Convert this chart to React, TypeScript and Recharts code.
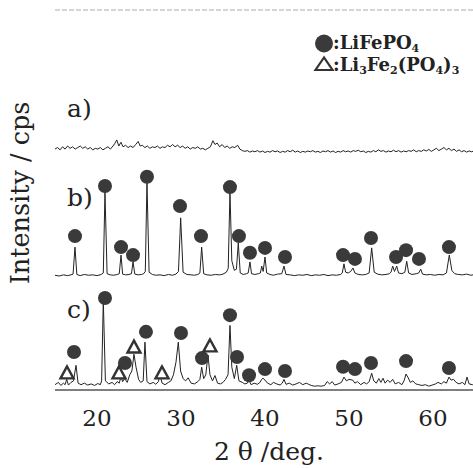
import { ComposedChart, Line, Scatter, XAxis, YAxis, ReferenceLine } from 'recharts';

// 2θ (deg) vs counts above each pattern's own baseline
const patternA: [number, number][] = [
  [15.0, 10], [15.3, 14], [15.6, 8], [15.9, 16], [16.2, 10], [16.5, 18], [16.8, 12], [17.1, 16], [17.4, 10], [17.7, 14],
  [18.0, 18], [18.3, 12], [18.6, 16], [18.9, 10], [19.2, 14], [19.5, 8], [19.8, 12], [20.1, 10], [20.4, 14], [20.7, 8],
  [21.0, 12], [21.3, 16], [21.6, 10], [21.9, 18], [22.1, 24], [22.35, 34], [22.6, 18], [22.85, 28], [23.1, 16], [23.4, 20],
  [23.7, 14], [24.0, 18], [24.3, 14], [24.6, 22], [24.9, 30], [25.15, 18], [25.4, 20], [25.7, 14], [26.0, 18], [26.3, 12],
  [26.6, 16], [26.9, 14], [27.2, 18], [27.5, 12], [27.8, 16], [28.1, 14], [28.4, 20], [28.7, 16], [29.0, 22], [29.3, 16],
  [29.6, 20], [29.9, 14], [30.2, 18], [30.5, 12], [30.8, 16], [31.1, 10], [31.4, 14], [31.7, 12], [32.0, 16], [32.3, 10],
  [32.6, 12], [32.9, 8], [33.2, 12], [33.5, 16], [33.8, 32], [34.05, 22], [34.3, 26], [34.6, 16], [34.9, 22], [35.2, 14],
  [35.5, 18], [35.8, 12], [36.1, 16], [36.4, 14], [36.75, 20], [37.0, 10], [37.3, 6], [37.6, 4], [37.9, 6], [38.2, 2],
  [38.5, 5], [38.8, 3], [39.1, 6], [39.4, 2], [39.7, 5], [40.0, 1], [40.3, 4], [40.6, 2], [40.9, 6], [41.2, 3],
  [41.5, 5], [41.8, 1], [42.1, 4], [42.4, 2], [42.7, 6], [43.0, 3], [43.3, 7], [43.6, 2], [43.9, 5], [44.2, 1],
  [44.5, 4], [44.8, 2], [45.1, 5], [45.4, 3], [45.7, 6], [46.0, 2], [46.3, 4], [46.6, 1], [46.9, 5], [47.2, 3],
  [47.5, 6], [47.8, 2], [48.1, 5], [48.4, 1], [48.7, 4], [49.0, 2], [49.3, 6], [49.6, 3], [49.9, 5], [50.2, 2],
  [50.5, 6], [50.8, 4], [51.1, 7], [51.4, 3], [51.7, 5], [52.0, 1], [52.3, 4], [52.6, 2], [52.9, 6], [53.2, 3],
  [53.5, 8], [53.8, 4], [54.1, 6], [54.4, 2], [54.7, 5], [55.0, 3], [55.3, 7], [55.6, 3], [55.9, 6], [56.2, 2],
  [56.5, 5], [56.8, 3], [57.1, 6], [57.4, 4], [57.7, 8], [58.0, 3], [58.3, 6], [58.6, 4], [58.9, 8], [59.2, 5],
  [59.5, 9], [59.8, 4], [60.1, 8], [60.4, 12], [60.7, 6], [61.0, 10], [61.3, 14], [61.6, 8], [61.9, 12], [62.2, 6],
  [62.5, 10], [62.8, 4], [63.1, 8], [63.4, 3], [63.7, 6], [64.0, 2], [64.3, 5], [64.6, 3], [65.0, 6],
];

const patternB: [number, number][] = [
  [15.0, 2], [15.5, 0], [16.0, 3], [16.5, 1], [16.9, 3], [17.15, 5], [17.38, 76], [17.6, 4], [18.0, 1], [18.5, 4],
  [19.0, 2], [19.5, 3], [20.0, 1], [20.5, 4], [20.75, 8], [20.95, 221], [21.2, 6], [21.6, 3], [22.0, 2], [22.4, 4],
  [22.65, 6], [22.86, 55], [23.05, 5], [23.4, 3], [23.8, 4], [24.1, 6], [24.29, 37], [24.5, 5], [24.9, 3], [25.3, 4],
  [25.55, 6], [25.75, 12], [25.95, 247], [26.2, 10], [26.6, 4], [27.0, 2], [27.5, 3], [28.0, 1], [28.5, 4], [29.0, 2],
  [29.4, 5], [29.7, 12], [29.96, 153], [30.25, 10], [30.7, 4], [31.2, 3], [31.6, 2], [32.0, 4], [32.25, 8], [32.46, 76],
  [32.7, 6], [33.1, 3], [33.6, 2], [34.1, 4], [34.6, 3], [35.0, 5], [35.4, 10], [35.62, 20], [35.83, 221], [36.05, 40],
  [36.35, 15], [36.6, 18], [36.82, 87], [37.05, 8], [37.4, 4], [37.8, 6], [38.0, 8], [38.21, 37], [38.4, 6], [38.8, 4],
  [39.2, 6], [39.45, 8], [39.61, 26], [39.78, 12], [40.0, 50], [40.2, 8], [40.6, 4], [41.0, 2], [41.5, 5], [42.0, 6],
  [42.26, 26], [42.5, 4], [43.0, 3], [43.5, 1], [44.0, 3], [44.5, 2], [45.0, 4], [45.5, 1], [46.0, 3], [46.5, 2],
  [47.0, 4], [47.5, 1], [48.0, 3], [48.5, 2], [49.0, 4], [49.2, 8], [49.4, 32], [49.6, 10], [49.9, 8], [50.2, 12],
  [50.48, 21], [50.7, 8], [51.1, 4], [51.6, 3], [52.0, 4], [52.4, 8], [52.7, 74], [53.0, 10], [53.4, 5], [53.9, 3],
  [54.4, 4], [54.8, 6], [55.0, 10], [55.2, 26], [55.42, 12], [55.68, 26], [55.9, 8], [56.3, 6], [56.65, 10], [56.87, 39],
  [57.1, 8], [57.5, 4], [58.0, 6], [58.3, 8], [58.54, 18], [58.75, 5], [59.2, 3], [59.7, 4], [60.2, 2], [60.7, 4],
  [61.2, 3], [61.6, 8], [61.94, 55], [62.25, 14], [62.6, 6], [63.0, 4], [63.5, 3], [64.0, 5], [64.5, 2], [65.0, 4],
];

const patternC: [number, number][] = [
  [15.0, 4], [15.4, 10], [15.7, 2], [16.0, 8], [16.2, 4], [16.39, 18], [16.6, 3], [16.9, 10], [17.2, 14], [17.5, 55],
  [17.75, 8], [18.1, 4], [18.5, 8], [18.9, 3], [19.3, 6], [19.7, 2], [20.1, 7], [20.4, 4], [20.55, 14], [20.75, 226],
  [21.0, 14], [21.4, 6], [21.8, 10], [22.1, 4], [22.4, 12], [22.65, 8], [22.86, 26], [23.05, 12], [23.3, 20], [23.6, 10],
  [23.9, 30], [24.15, 40], [24.4, 84], [24.65, 50], [24.95, 18], [25.2, 10], [25.5, 14], [25.71, 116], [25.95, 12], [26.3, 6],
  [26.7, 10], [27.0, 5], [27.3, 12], [27.5, 29], [27.75, 8], [28.1, 4], [28.5, 10], [28.8, 14], [29.1, 30], [29.4, 63],
  [29.68, 116], [29.95, 40], [30.25, 20], [30.55, 14], [30.85, 22], [31.2, 8], [31.6, 6], [32.0, 12], [32.25, 18], [32.46, 50],
  [32.7, 20], [32.95, 30], [33.21, 82], [33.45, 30], [33.75, 14], [34.05, 28], [34.35, 8], [34.7, 6], [35.0, 10], [35.3, 18],
  [35.6, 30], [35.83, 160], [36.05, 50], [36.35, 20], [36.63, 55], [36.9, 14], [37.3, 10], [37.6, 6], [37.9, 8], [38.1, 16],
  [38.35, 4], [38.7, 8], [39.1, 5], [39.4, 10], [39.6, 18], [39.76, 21], [40.0, 16], [40.3, 8], [40.7, 4], [41.0, 10],
  [41.4, 6], [41.8, 3], [42.05, 8], [42.26, 18], [42.5, 5], [42.9, 8], [43.3, 3], [43.7, 6], [44.1, 10], [44.5, 4],
  [44.9, 8], [45.2, 5], [45.5, 2], [45.9, 0], [46.3, 1], [46.7, 0], [47.1, 2], [47.4, 12], [47.7, 6], [48.0, 12],
  [48.3, 3], [48.7, 6], [49.1, 10], [49.4, 24], [49.7, 14], [50.0, 18], [50.44, 16], [50.7, 8], [51.0, 12], [51.4, 4],
  [51.8, 10], [52.1, 6], [52.4, 12], [52.7, 34], [52.95, 14], [53.25, 8], [53.55, 20], [53.8, 10], [54.05, 21], [54.3, 8],
  [54.6, 16], [54.9, 10], [55.2, 18], [55.5, 6], [55.9, 10], [56.3, 4], [56.55, 14], [56.79, 32], [57.05, 22], [57.3, 10],
  [57.6, 14], [57.95, 6], [58.3, 4], [58.7, 2], [59.1, 4], [59.5, 0], [59.9, 3], [60.3, 6], [60.6, 10], [61.0, 6],
  [61.3, 12], [61.6, 8], [61.9, 24], [62.15, 16], [62.45, 18], [62.75, 10], [63.1, 6], [63.5, 10], [63.8, 4], [64.05, 24],
  [64.3, 6], [64.7, 4], [65.0, 6],
];

// vertical offsets of the stacked patterns
const offsetA = 624;
const offsetB = 300;
const offsetC = 10;

// phase markers: [2θ, counts]
const lfpMarksB: [number, number][] = [
  [17.38, 405], [20.95, 537], [22.86, 376], [24.29, 355], [25.95, 561], [29.88, 484], [32.38, 405],
  [35.83, 534], [36.9, 405], [38.21, 361], [40.0, 374], [42.38, 350], [49.29, 355], [50.71, 345],
  [52.62, 400], [55.6, 350], [56.79, 368], [58.33, 345], [61.9, 376],
];
const lfpMarksC: [number, number][] = [
  [17.26, 100], [20.95, 242], [23.33, 71], [25.83, 153], [30.0, 150], [32.5, 84], [35.83, 197],
  [36.67, 87], [38.1, 39], [40.0, 55], [42.38, 50], [49.29, 61], [50.71, 55], [52.62, 71],
  [56.79, 76], [61.9, 58],
];
const lfp2MarksC: [number, number][] = [
  [16.43, 45], [22.62, 45], [24.4, 113], [27.74, 45], [33.45, 116],
];

const xTicks = [20, 30, 40, 50, 60];

const toPoints = (arr: [number, number][], off = 0) => arr.map(([x, y]) => ({ x, y: y + off }));

const serif = '"DejaVu Serif", serif';

const Dot = (props: any) => <circle cx={props.cx} cy={props.cy} r={7} fill="#3a3a3a" />;
const Tri = (props: any) => {
  const { cx, cy } = props;
  return (
    <polygon
      points={`${cx},${cy - 6.5} ${cx - 6.5},${cy + 5.5} ${cx + 6.5},${cy + 5.5}`}
      fill="#fff"
      stroke="#333"
      strokeWidth={2.4}
    />
  );
};

export default function App() {
  return (
    <div style={{ position: 'relative', width: 473, height: 468, overflow: 'hidden', background: '#fff' }}>
      <style>{'body{margin:0}'}</style>
      <ComposedChart width={475} height={468} margin={{ top: 10, right: 0, left: 55, bottom: 38 }}>
        <XAxis
          type="number"
          dataKey="x"
          domain={[15, 65]}
          ticks={xTicks}
          allowDataOverflow
          tickLine={false}
          tickMargin={14}
          height={40}
          axisLine={{ stroke: '#555', strokeWidth: 1.5 }}
          tick={{ fontFamily: serif, fontSize: 23, fill: '#222' }}
        />
        <YAxis
          type="number"
          domain={[0, 1000]}
          width={0}
          tick={false}
          tickLine={false}
          axisLine={{ stroke: '#444', strokeWidth: 1.3 }}
        />
        <ReferenceLine y={1000} stroke="#aaa" strokeDasharray="5 2" />
        <Line data={toPoints(patternA, offsetA)} dataKey="y" type="linear" dot={false} stroke="#222" strokeWidth={1} isAnimationActive={false} />
        <Line data={toPoints(patternB, offsetB)} dataKey="y" type="linear" dot={false} stroke="#222" strokeWidth={1} isAnimationActive={false} />
        <Line data={toPoints(patternC, offsetC)} dataKey="y" type="linear" dot={false} stroke="#222" strokeWidth={1} isAnimationActive={false} />
        <Scatter data={toPoints(lfpMarksB)} dataKey="y" shape={Dot} isAnimationActive={false} />
        <Scatter data={toPoints(lfpMarksC)} dataKey="y" shape={Dot} isAnimationActive={false} />
        <Scatter data={toPoints(lfp2MarksC)} dataKey="y" shape={Tri} isAnimationActive={false} />
      </ComposedChart>
      <svg width={473} height={468} style={{ position: 'absolute', left: 0, top: 0, pointerEvents: 'none' }}>
        <g fontFamily={serif} fill="#222">
          <text x={67} y={117} fontSize={25}>a)</text>
          <text x={67} y={206} fontSize={25}>b)</text>
          <text x={67} y={318} fontSize={25}>c)</text>
          <text x={29} y={193} fontSize={25.5} textAnchor="middle" transform="rotate(-90 29 193)">Intensity / cps</text>
          <text x={269} y={460} fontSize={25} textAnchor="middle">2 θ /deg.</text>
        </g>
        <circle cx={324} cy={43.5} r={9} fill="#3a3a3a" />
        <polygon points="324,57.5 315.5,70 332.5,70" fill="#fff" stroke="#333" strokeWidth={2.2} />
        <g fontFamily={serif} fontWeight="bold" fill="#222" fontSize={18}>
          <text x={333} y={49}>
            :LiFePO<tspan fontSize={11} dy={3}>4</tspan>
          </text>
          <text x={333} y={71}>
            :Li<tspan fontSize={11} dy={3}>3</tspan>
            <tspan dy={-3}>Fe</tspan>
            <tspan fontSize={11} dy={3}>2</tspan>
            <tspan dy={-3}>(PO</tspan>
            <tspan fontSize={11} dy={3}>4</tspan>
            <tspan dy={-3}>)</tspan>
            <tspan fontSize={11} dy={3}>3</tspan>
          </text>
        </g>
      </svg>
    </div>
  );
}
